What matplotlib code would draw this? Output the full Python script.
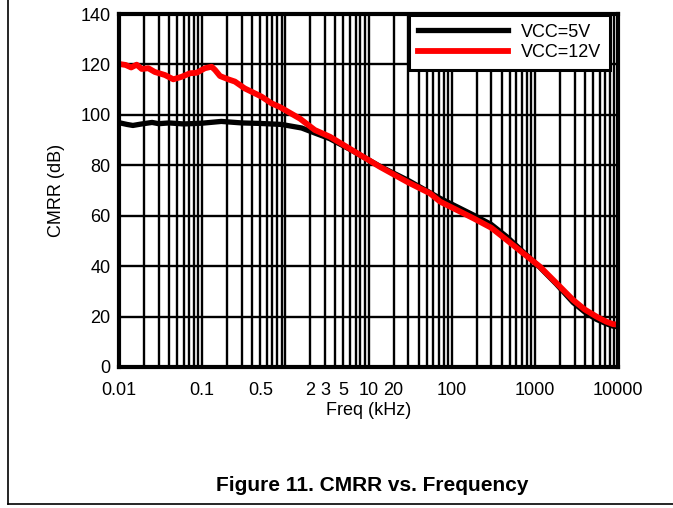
import matplotlib
matplotlib.use('Agg')
import matplotlib.pyplot as plt
from matplotlib.ticker import FixedLocator, LogLocator, NullFormatter
from matplotlib.lines import Line2D

plt.rcParams['font.family'] = ['Liberation Sans', 'DejaVu Sans']

# VCC = 5V
freq_5 = [0.01, 0.0125, 0.0147, 0.018, 0.025, 0.03, 0.04, 0.06, 0.1, 0.17, 0.3, 0.5,
          0.9, 1.57, 2.26, 3.4, 6, 13.7, 30, 72.5, 182, 300, 458, 1150, 1800, 2880,
          3980, 5500, 7200, 8700, 9800]
cmrr_5 = [96.9, 96.2, 95.8, 96.3, 97.0, 96.5, 96.8, 96.4, 96.7, 97.4, 96.8, 96.6,
          96.2, 94.8, 92.8, 90.6, 86.3, 79.6, 74.0, 66.9, 60.3, 56.5, 51.7, 39.5, 33.0, 25.6,
          21.8, 18.9, 17.2, 16.2, 16.0]

# VCC = 12V
freq_12 = [0.01, 0.012, 0.014, 0.0163, 0.0188, 0.0225, 0.027, 0.0357, 0.045, 0.0567,
           0.0714, 0.086, 0.108, 0.13, 0.143, 0.164, 0.206, 0.248, 0.325, 0.52, 0.68,
           0.86, 1.5, 2.26, 3.45, 6, 13.7, 30, 54.7, 72.5, 182, 300, 458, 1150, 1800,
           2880, 3980, 5500, 7200, 8700, 9800]
cmrr_12 = [120.2, 119.8, 118.8, 119.9, 118.2, 118.5, 117.0, 115.8, 114.1, 115.1,
           116.5, 116.7, 118.5, 119.1, 117.8, 115.4, 114.1, 113.2, 110.5, 107.2, 104.6,
           103.1, 98.5, 94.0, 91.3, 86.5, 79.4, 73.2, 68.9, 65.6, 59.0, 55.2, 50.4, 39.8,
           33.4, 26.6, 22.8, 20.0, 18.0, 17.0, 16.8]

xticks = [0.01, 0.1, 0.5, 2, 3, 5, 10, 20, 100, 1000, 10000]
xtick_labels = ['0.01', '0.1', '0.5', '2', '3', '5', '10', '20', '100', '1000', '10000']
yticks = [0, 20, 40, 60, 80, 100, 120, 140]

fig = plt.figure(figsize=(6.73, 5.08), dpi=100)
ax = fig.add_axes([0.1768, 0.2776, 0.7415, 0.6948])

ax.plot(freq_5, cmrr_5, color='black', lw=3.8, label='VCC=5V', zorder=3)
ax.plot(freq_12, cmrr_12, color='#ff0000', lw=4.2, label='VCC=12V', zorder=4)

ax.set_xscale('log')
ax.set_xlim(0.01, 10000)
ax.set_ylim(0, 140)
ax.xaxis.set_major_locator(FixedLocator(xticks))
ax.set_xticklabels(xtick_labels)
ax.xaxis.set_minor_locator(LogLocator(base=10, subs=range(1, 10), numticks=20))
ax.xaxis.set_minor_formatter(NullFormatter())
ax.set_yticks(yticks)

ax.grid(True, which='both', color='black', lw=1.7)
ax.tick_params(which='both', length=0, labelsize=13)
ax.tick_params(axis='y', pad=6)
ax.tick_params(axis='x', pad=11)
for s in ax.spines.values():
    s.set_linewidth(3)
    s.set_zorder(5)

ax.set_xlabel('Freq (kHz)', fontsize=13)
ax.set_ylabel('CMRR (dB)', fontsize=13)
ax.xaxis.set_label_coords(0.5, -0.1)
ax.yaxis.set_label_coords(-0.108, 0.5)

leg = ax.legend(loc='upper right', bbox_to_anchor=(0.984, 0.998), borderaxespad=0,
                fontsize=13, handlelength=5.0, fancybox=False, framealpha=1,
                edgecolor='black', borderpad=0.5, labelspacing=0.2, handletextpad=0.7)
leg.get_frame().set_linewidth(2.2)
leg.set_zorder(6)

fig.text(0.553, 0.045, 'Figure 11. CMRR vs. Frequency', ha='center', va='center',
         fontsize=15, fontweight='bold')

# page frame on the left and bottom
fig.add_artist(Line2D([0.012, 0.012], [0.008, 1.0], color='black', lw=1.2))
fig.add_artist(Line2D([0.012, 1.0], [0.008, 0.008], color='black', lw=1.2))

fig.savefig('out.png', dpi=100)
